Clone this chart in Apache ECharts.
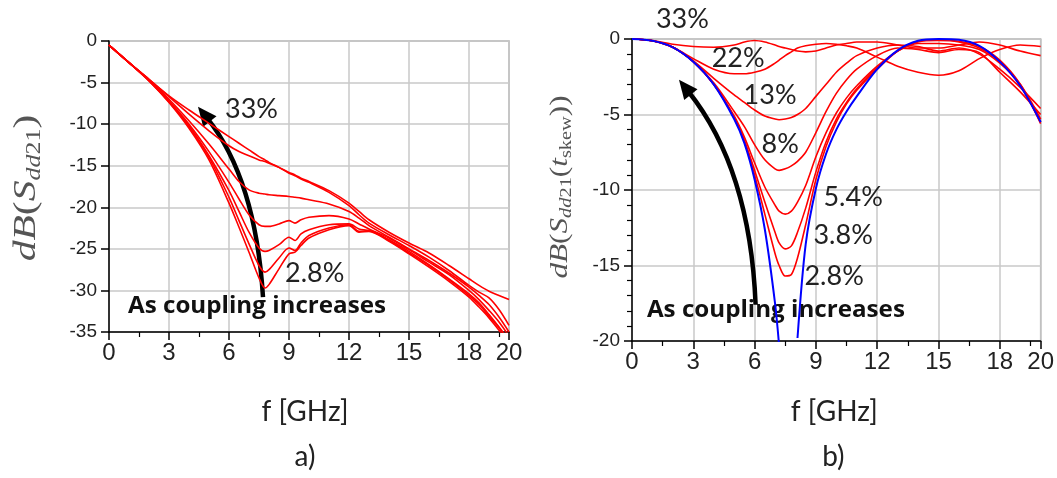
<!DOCTYPE html>
<html><head><meta charset="utf-8">
<script src="https://cdn.jsdelivr.net/npm/echarts@6/dist/echarts.min.js"></script>
<style>html,body{margin:0;padding:0;background:#fff}#c{width:1057px;height:478px}</style>
</head><body><div id="c"></div>
<script>
// ---------- DATA ----------
const couplings = ['33%', '22%', '13%', '8%', '5.4%', '3.8%', '2.8%'];
const xTickValues = [0, 3, 6, 9, 12, 15, 18, 20];
const yTicksA = [0, -5, -10, -15, -20, -25, -30, -35];
const yTicksB = [0, -5, -10, -15, -20];

// (a) dB(Sdd21) vs f [GHz]
const freqA = [0,1,2,3,4,5,6,6.5,7,7.5,7.8,8,8.5,9,9.3,9.6,10,11,12,12.5,13,14,15,16,17,18,18.5,19,19.5,20];
const a33 = [-0.5,-2.6,-4.6,-6.6,-8.3,-9.9,-11.5,-12.3,-13.1,-13.9,-14.3,-14.6,-15.2,-15.8,-16.1,-16.5,-16.9,-18.0,-19.5,-20.5,-21.5,-23.0,-24.3,-25.5,-27.0,-28.6,-29.4,-30.1,-30.6,-31.1];
const a22 = [-0.5,-2.6,-4.6,-6.7,-8.8,-10.8,-12.6,-13.3,-13.8,-14.3,-14.5,-14.7,-15.2,-15.9,-16.2,-16.6,-17.0,-18.2,-19.8,-20.9,-21.9,-23.3,-24.6,-26.0,-27.6,-29.4,-30.2,-30.9,-32.3,-34.2];
const a13 = [-0.5,-2.6,-4.7,-7.0,-9.6,-12.4,-15.4,-16.9,-17.9,-18.3,-18.4,-18.5,-18.6,-18.7,-18.8,-18.9,-19.1,-19.6,-20.5,-21.3,-22.2,-23.6,-25.0,-26.4,-27.9,-29.6,-30.6,-31.7,-33.2,-35.0];
const a8  = [-0.5,-2.6,-4.7,-7.2,-10.0,-13.3,-17.0,-19.0,-20.9,-22.1,-22.3,-22.3,-22.0,-21.6,-21.9,-21.5,-21.2,-21.0,-21.4,-22.0,-22.6,-23.7,-25.1,-26.6,-28.1,-30.0,-31.1,-32.4,-33.8,-35.5];
const a54 = [-0.5,-2.6,-4.7,-7.3,-10.2,-13.8,-18.0,-20.5,-23.0,-24.9,-25.3,-25.2,-24.5,-23.6,-24.0,-23.2,-22.7,-22.1,-22.0,-22.6,-22.8,-23.9,-25.3,-26.9,-28.6,-30.4,-31.5,-32.9,-34.4,-36.0];
const a38 = [-0.5,-2.6,-4.8,-7.3,-10.3,-14.0,-18.8,-21.6,-24.4,-27.0,-27.8,-27.5,-26.1,-24.9,-25.2,-24.3,-23.4,-22.5,-22.1,-22.9,-22.8,-24.0,-25.5,-27.0,-28.7,-30.6,-31.7,-33.1,-34.5,-36.2];
const a28 = [-0.5,-2.6,-4.8,-7.4,-10.5,-14.3,-19.5,-22.4,-25.4,-28.5,-29.7,-29.3,-27.4,-25.6,-25.4,-24.6,-23.7,-22.7,-22.2,-23.0,-22.9,-24.1,-25.6,-27.2,-28.9,-30.8,-32.0,-33.3,-34.8,-36.5];

// (b) dB(Sdd21(t_skew)) vs f [GHz]
const freqB = [0,1,2,3,4,5,5.5,6,6.5,7,7.2,7.5,7.8,8.1,8.5,9,9.5,10,10.5,11,12,13,14,15,16,17,18,19,20];
const bSkew = [0,-0.12,-0.55,-1.5,-3.0,-5.3,-6.9,-9.3,-12.6,-17.5,-20.3,null,null,-19.8,-13.6,-9.9,-7.6,-6.0,-4.8,-3.8,-2.0,-0.75,-0.12,0,-0.05,-0.45,-1.5,-3.1,-5.5];
const b33 = [0,-0.1,-0.35,-0.5,-0.55,-0.4,-0.2,-0.1,-0.2,-0.4,-0.5,-0.6,-0.7,-0.8,-0.85,-0.8,-0.6,-0.4,-0.3,-0.2,-0.2,-0.4,-0.6,-0.6,-0.4,-0.2,-0.4,-0.8,-1.1];
const b22 = [0,-0.12,-0.55,-1.3,-2.0,-2.3,-2.3,-2.2,-2.0,-1.6,-1.4,-1.1,-0.85,-0.6,-0.45,-0.35,-0.3,-0.35,-0.45,-0.6,-1.2,-1.8,-2.2,-2.4,-2.1,-1.3,-0.7,-0.4,-0.5];
const b13 = [0,-0.12,-0.55,-1.45,-2.6,-3.7,-4.2,-4.7,-5.1,-5.3,-5.35,-5.3,-5.2,-5.0,-4.6,-3.8,-3.0,-2.2,-1.6,-1.1,-0.6,-0.4,-0.5,-0.8,-0.6,-1.0,-2.0,-3.2,-4.6];
const b8  = [0,-0.12,-0.55,-1.5,-2.9,-4.8,-5.8,-7.0,-8.0,-8.6,-8.7,-8.6,-8.4,-8.1,-7.5,-6.2,-4.8,-3.6,-2.7,-2.0,-1.1,-0.6,-0.7,-0.9,-0.7,-0.9,-2.2,-3.5,-5.0];
const b54 = [0,-0.12,-0.55,-1.5,-3.0,-5.1,-6.5,-8.2,-9.8,-11.0,-11.4,-11.6,-11.4,-10.8,-9.7,-7.8,-6.2,-4.9,-3.9,-3.1,-1.8,-0.8,-0.3,-0.3,-0.4,-0.7,-1.6,-3.0,-5.3];
const b38 = [0,-0.12,-0.55,-1.5,-3.0,-5.2,-6.7,-8.7,-10.8,-12.8,-13.5,-13.9,-13.7,-12.8,-11.2,-8.8,-6.8,-5.3,-4.2,-3.3,-1.9,-0.8,-0.2,-0.1,-0.2,-0.6,-1.5,-3.1,-5.5];
const b28 = [0,-0.12,-0.55,-1.5,-3.0,-5.2,-6.8,-9.0,-11.6,-14.2,-15.0,-15.7,-15.6,-14.5,-12.3,-9.3,-7.1,-5.5,-4.3,-3.4,-2.0,-0.8,-0.15,-0.05,-0.15,-0.5,-1.4,-3.0,-5.6];

// ---------- ANNOTATIONS (in data units) ----------
const annA = [
  {text: '33%', f: 5.8, db: -8.2},
  {text: '2.8%', f: 8.8, db: -27.95}
];
const annB = [
  {text: '33%', f: 1.17, db: 1.32},
  {text: '22%', f: 3.9, db: -1.26},
  {text: '13%', f: 5.46, db: -3.7},
  {text: '8%', f: 6.34, db: -7.0},
  {text: '5.4%', f: 9.37, db: -10.5},
  {text: '3.8%', f: 8.88, db: -13.0},
  {text: '2.8%', f: 8.44, db: -15.7}
];
const noteA = {f: 0.95, db: -31.9};
const noteB = {f: 0.73, db: -18.0};
// arrow: tail, control point, tip (quadratic curve)
const arrowA = [[7.7, -30.8], [7.33, -16.6], [4.45, -7.9]];
const arrowB = [[6.05, -17.6], [5.78, -8.58], [2.3, -2.7]];

// ---------- CHART ----------
const chart = echarts.init(document.getElementById('c'), null, {renderer: 'canvas'});
const toPairs = (freq, vals) => freq.map((f, i) => [f, vals[i] === null ? '-' : vals[i]]);

function xAx(idx) {
  return {
    type: 'value', gridIndex: idx, min: 0, max: 20, interval: 3,
    axisLine: {show: true, onZero: false, lineStyle: {color: '#000', width: 1.5}},
    axisTick: {show: true, length: 8, lineStyle: {color: '#000', width: 1.5}},
    minorTick: {show: true, splitNumber: 2, length: 5, lineStyle: {color: '#000', width: 1.2}},
    splitLine: {show: true, lineStyle: {color: '#c8c8c8', width: 1.5}},
    axisLabel: {
      margin: 9, color: '#222', fontFamily: '"Liberation Sans Narrow", "Liberation Sans", Arial', fontSize: 24,
      formatter: v => xTickValues.includes(v) ? String(v) : ''
    }
  };
}
function yAx(idx, min, ticks, minorSplit) {
  return {
    type: 'value', gridIndex: idx, min: min, max: 0, interval: 5,
    axisLine: {show: true, onZero: false, lineStyle: {color: '#000', width: 1.5}},
    axisTick: {show: true, length: 8, lineStyle: {color: '#000', width: 1.5}},
    minorTick: {show: minorSplit > 0, splitNumber: minorSplit || 5, length: 5, lineStyle: {color: '#000', width: 1.2}},
    splitLine: {show: true, lineStyle: {color: '#c8c8c8', width: 1.5}},
    axisLabel: {
      margin: 12, color: '#222', fontFamily: '"Liberation Sans", Arial', fontSize: 19,
      formatter: v => ticks.includes(v) ? String(v) : ''
    }
  };
}

const series = [];
[a33, a22, a13, a8, a54, a38, a28].forEach((arr, i) => series.push({
  name: 'a ' + couplings[i], type: 'line', xAxisIndex: 0, yAxisIndex: 0,
  data: toPairs(freqA, arr), showSymbol: false, smooth: 0.3, clip: true,
  lineStyle: {color: '#ff0000', width: 1.6}, silent: true
}));
[b33, b22, b13, b8, b54, b38, b28].forEach((arr, i) => series.push({
  name: 'b ' + couplings[i], type: 'line', xAxisIndex: 1, yAxisIndex: 1,
  data: toPairs(freqB, arr), showSymbol: false, smooth: 0.3, clip: true,
  lineStyle: {color: '#ff0000', width: 1.6}, silent: true
}));
series.push({
  name: 'skew', type: 'line', xAxisIndex: 1, yAxisIndex: 1,
  data: toPairs(freqB, bSkew), showSymbol: false, smooth: 0.3, clip: true, connectNulls: false,
  lineStyle: {color: '#0000ff', width: 2}, silent: true
});

chart.setOption({
  animation: false,
  backgroundColor: '#fff',
  grid: [
    {left: 109, top: 41, width: 400, height: 291, show: true, borderColor: '#aaa', borderWidth: 1.5},
    {left: 632, top: 39, width: 409, height: 302, show: true, borderColor: '#aaa', borderWidth: 1.5}
  ],
  xAxis: [xAx(0), xAx(1)],
  yAxis: [yAx(0, -35, yTicksA, 0), yAx(1, -20, yTicksB, 5)],
  series: series
});

// ---------- GRAPHIC ANNOTATIONS ----------
const px = (g, f, db) => chart.convertToPixel({gridIndex: g}, [f, db]);
const g = [];
const mctx = document.createElement('canvas').getContext('2d');
function txt(x, y, text, opts) {
  const o = Object.assign({fontSize: 27, fontFamily: 'Lato, "Open Sans", sans-serif', fontWeight: 'normal',
    align: 'left', verticalAlign: 'middle', fill: '#222'}, opts || {});
  let sx = 1;
  if (o.fitWidth) {
    mctx.font = o.fontWeight + ' ' + o.fontSize + 'px ' + o.fontFamily;
    sx = o.fitWidth / mctx.measureText(text).width;
  }
  g.push({type: 'text', x: x, y: y, scaleX: sx, style: {
    text: text, fontSize: o.fontSize, fontFamily: o.fontFamily, fontWeight: o.fontWeight, fill: o.fill,
    align: o.align, verticalAlign: o.verticalAlign, textAlign: o.align, textVerticalAlign: o.verticalAlign
  }, silent: true});
}
annA.forEach(a => { const p = px(0, a.f, a.db); txt(p[0], p[1], a.text); });
annB.forEach(a => { const p = px(1, a.f, a.db); txt(p[0], p[1], a.text); });
[[0, noteA], [1, noteB]].forEach(([gi, n]) => {
  const p = px(gi, n.f, n.db);
  txt(p[0], p[1], 'As coupling increases', {fontSize: 22.5, fontFamily: '"Open Sans", sans-serif', fontWeight: 'bold', fill: '#111', fitWidth: 258});
});
function arrow(gi, pts) {
  const [P0, C, P2] = pts.map(q => px(gi, q[0], q[1]));
  let dx = P2[0] - C[0], dy = P2[1] - C[1];
  const L = Math.hypot(dx, dy); dx /= L; dy /= L;
  const HL = 19, HW = 8.5;
  const base = [P2[0] - dx * HL, P2[1] - dy * HL];
  const end = [P2[0] - dx * (HL - 4), P2[1] - dy * (HL - 4)];
  g.push({type: 'bezierCurve', shape: {x1: P0[0], y1: P0[1], cpx1: C[0], cpy1: C[1], x2: end[0], y2: end[1]},
    style: {stroke: '#000', lineWidth: 4.5, fill: null}, silent: true});
  g.push({type: 'polygon', shape: {points: [P2, [base[0] - dy * HW, base[1] + dx * HW], [base[0] + dy * HW, base[1] - dx * HW]]},
    style: {fill: '#000'}, silent: true});
}
arrow(0, arrowA);
arrow(1, arrowB);

// axis titles
function vtitle(x, y, text, rich, scaleX) {
  g.push({type: 'text', x: x, y: y, rotation: Math.PI / 2, scaleX: scaleX || 1, style: {
    text: text, rich: rich, align: 'center', verticalAlign: 'middle', textAlign: 'center', textVerticalAlign: 'middle', fill: '#555'
  }, silent: true});
}
const serif = '"Liberation Serif", "DejaVu Serif", serif';
const richA = {
  i: {fontSize: 32, fontFamily: serif, fontStyle: 'italic', fill: '#555', lineHeight: 36},
  p: {fontSize: 32, fontFamily: serif, fill: '#555', lineHeight: 36},
  s: {fontSize: 20, fontFamily: serif, fontStyle: 'italic', fill: '#555', lineHeight: 22, verticalAlign: 'bottom'},
  n: {fontSize: 20, fontFamily: serif, fill: '#555', lineHeight: 22, verticalAlign: 'bottom'}
};
const richB = {
  i: {fontSize: 26, fontFamily: serif, fontStyle: 'italic', fill: '#555', lineHeight: 30},
  p: {fontSize: 26, fontFamily: serif, fill: '#555', lineHeight: 30},
  s: {fontSize: 17, fontFamily: serif, fontStyle: 'italic', fill: '#555', lineHeight: 18, verticalAlign: 'bottom'},
  n: {fontSize: 17, fontFamily: serif, fill: '#555', lineHeight: 18, verticalAlign: 'bottom'}
};
vtitle(27, 188, '{i|dB}{p|(}{i|S}{s|dd}{n|21}{p|)}', richA, 1.3);
vtitle(560, 187, '{i|dB}{p|(}{i|S}{s|dd}{n|21}{p|(}{i|t}{n|skew}{p|))}', richB, 1.2);

// x titles and panel labels
const mid = (gi) => px(gi, 10, 0)[0];
txt(mid(0) - 4, 412, 'f [GHz]', {fontSize: 28, align: 'center'});
txt(mid(1) - 2, 412, 'f [GHz]', {fontSize: 28, align: 'center'});
txt(mid(0) - 4, 457, 'a)', {fontSize: 28, align: 'center'});
txt(mid(1) - 3, 457, 'b)', {fontSize: 28, align: 'center'});

chart.setOption({graphic: {elements: g}});
</script>
</body></html>
